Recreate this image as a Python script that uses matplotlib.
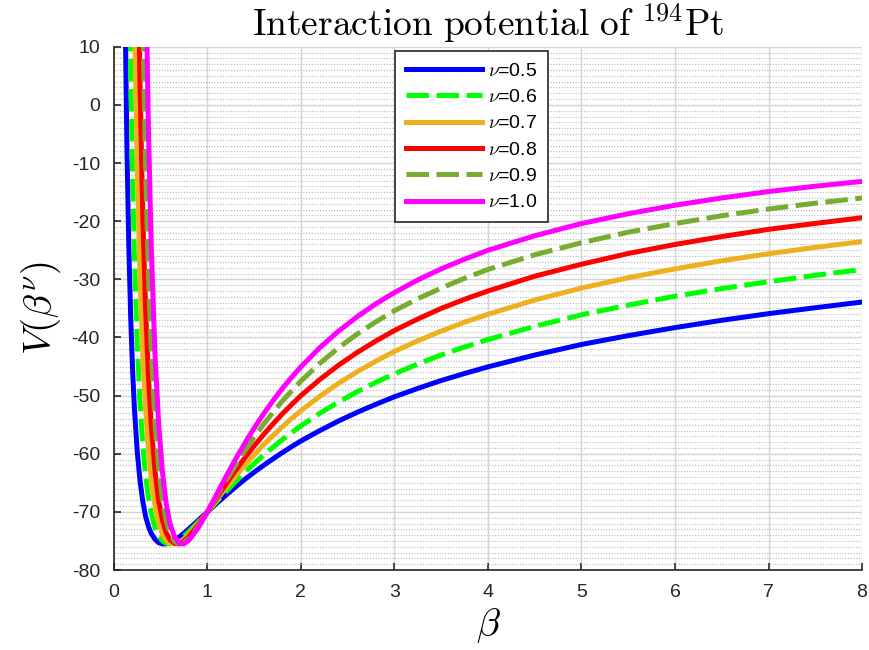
import matplotlib
matplotlib.use("Agg")
import matplotlib.pyplot as plt
from matplotlib.ticker import MultipleLocator

plt.rcParams["font.family"] = ["Liberation Sans", "DejaVu Sans"]
plt.rcParams["mathtext.fontset"] = "cm"
plt.rcParams["axes.unicode_minus"] = False

# beta sample points shared by all curves
beta = [0.10, 0.12, 0.14, 0.16, 0.18, 0.20, 0.22, 0.25, 0.28, 0.31, 0.34, 0.37,
        0.40, 0.44, 0.48, 0.52, 0.56, 0.60, 0.65, 0.70, 0.75, 0.80, 0.90,
        1.0, 1.1, 1.2, 1.3, 1.4, 1.5, 1.6, 1.7, 1.8, 1.9, 2.0, 2.2, 2.4, 2.6, 2.8,
        3.0, 3.25, 3.5, 3.75, 4.0, 4.5, 5.0, 5.5, 6.0, 6.5, 7.0, 7.5, 8.0]

v_05 = [53.5, 16.9, -7.4, -24.25, -36.4, -45.4, -52.2, -59.6, -64.7, -68.2, -70.8, -72.5,
        -73.7, -74.7, -75.3, -75.5, -75.5, -75.3, -74.8, -74.3, -73.65, -72.95, -71.5,
        -70.0, -68.52, -67.1, -65.73, -64.4, -63.18, -62.0, -60.9, -59.81, -58.79, -57.8,
        -56.03, -54.38, -52.88, -51.5, -50.2, -48.76, -47.4, -46.19, -45.05, -43.02, -41.2,
        -39.68, -38.3, -37.04, -35.9, -34.88, -33.9]
v_06 = [198.5, 118.8, 66.9, 31.6, 6.4, -12.1, -26.0, -41.0, -51.3, -58.6, -63.8, -67.5,
        -70.2, -72.7, -74.2, -75.0, -75.4, -75.5, -75.3, -74.8, -74.2, -73.4, -71.8,
        -70.0, -68.22, -66.5, -64.81, -63.2, -61.69, -60.25, -58.9, -57.59, -56.37, -55.2,
        -53.06, -51.11, -49.35, -47.73, -46.25, -44.56, -43.0, -41.63, -40.35, -38.08, -36.1,
        -34.43, -32.9, -31.59, -30.4, -29.31, -28.3]
v_07 = [457.5, 296.2, 193.9, 125.5, 77.5, 42.7, 16.9, -10.8, -29.7, -43.0, -52.4, -59.3,
        -64.3, -68.9, -71.9, -73.8, -74.9, -75.4, -75.5, -75.2, -74.65, -73.9, -72.0,
        -70.0, -67.91, -65.85, -63.87, -62.0, -60.18, -58.48, -56.9, -55.38, -53.95, -52.6,
        -50.13, -47.91, -45.9, -44.09, -42.4, -40.57, -38.9, -37.37, -36.0, -33.56, -31.5,
        -29.72, -28.2, -26.8, -25.6, -24.5, -23.5]
v_08 = [905.0, 594.6, 403.0, 277.1, 190.6, 128.4, 83.2, 35.3, 3.1, -19.4, -35.3, -46.8,
        -55.2, -63.0, -68.15, -71.4, -73.6, -74.8, -75.4, -75.5, -75.0, -74.3, -72.3,
        -70.0, -67.6, -65.2, -62.91, -60.7, -58.66, -56.71, -54.9, -53.16, -51.55, -50.0,
        -47.26, -44.8, -42.59, -40.62, -38.8, -36.82, -35.0, -33.43, -32.0, -29.46, -27.4,
        -25.55, -24.0, -22.64, -21.4, -20.38, -19.4]
v_09 = [1661.0, 1084.0, 737.0, 515.0, 364.7, 259.4, 183.1, 103.8, 51.0, 14.8, -10.8, -29.0,
        -42.2, -54.5, -62.6, -68.1, -71.5, -73.7, -75.1, -75.5, -75.3, -74.6, -72.6,
        -70.0, -67.28, -64.6, -61.95, -59.5, -57.13, -54.94, -52.9, -50.97, -49.19, -47.5,
        -44.48, -41.81, -39.43, -37.32, -35.4, -33.33, -31.5, -29.82, -28.3, -25.78, -23.7,
        -21.89, -20.4, -19.06, -17.9, -16.9, -16.0]
v_10 = [2918.0, 1873.0, 1264.0, 881.0, 628.0, 454.0, 330.0, 202.4, 119.2, 62.8, 23.7, -4.1,
        -24.25, -42.9, -55.1, -63.2, -68.6, -72.0, -74.3, -75.4, -75.5, -74.9, -72.8,
        -70.0, -66.96, -63.9, -60.98, -58.2, -55.6, -53.17, -50.9, -48.81, -46.86, -45.05,
        -41.78, -38.94, -36.44, -34.23, -32.27, -30.1, -28.2, -26.53, -25.0, -22.5, -20.4,
        -18.71, -17.25, -16.0, -14.9, -13.98, -13.15]

labels = [r"$\nu$=0.5", r"$\nu$=0.6", r"$\nu$=0.7", r"$\nu$=0.8", r"$\nu$=0.9", r"$\nu$=1.0"]
series = [v_05, v_06, v_07, v_08, v_09, v_10]
colors = ["#0000ff", "#00ff00", "#edb120", "#ff0000", "#77ac30", "#ff00ff"]
dashed = [False, True, False, False, True, False]

fig = plt.figure(figsize=(8.69, 6.5), dpi=100)
ax = fig.add_axes([0.131, 0.123, 0.861, 0.805])

for vals, lab, col, d in zip(series, labels, colors, dashed):
    if d:
        ax.plot(beta, vals, color=col, lw=3.6, label=lab, dashes=(4.5, 1.5))
    else:
        ax.plot(beta, vals, color=col, lw=3.6, label=lab)

ax.set_xlim(0, 8)
ax.set_ylim(-80, 10)
ax.xaxis.set_major_locator(MultipleLocator(1))
ax.yaxis.set_major_locator(MultipleLocator(10))
ax.yaxis.set_minor_locator(MultipleLocator(1))
ax.grid(True, which="major", color="#d4d4d4", lw=1.0)
ax.grid(True, which="minor", axis="y", color="#b8b8b8", lw=0.8, ls=(0, (1, 1.5)))
ax.set_axisbelow(True)

for s in ["top", "right"]:
    ax.spines[s].set_visible(False)
for s in ["left", "bottom"]:
    ax.spines[s].set_color("#262626")
    ax.spines[s].set_linewidth(1.2)
ax.tick_params(which="major", direction="in", length=5, width=1.2, color="#262626",
               labelsize=14, labelcolor="#262626", pad=10)
ax.tick_params(which="minor", length=0)

ax.set_title(r"$\mathrm{Interaction\ potential\ of\ }^{194}\mathrm{Pt}$", fontsize=27, pad=8)
ax.set_xlabel(r"$\beta$", fontsize=28, labelpad=4)
ax.set_ylabel(r"$V(\beta^{\nu})$", fontsize=28, labelpad=6)

leg = ax.legend(loc="upper left", bbox_to_anchor=(0.363, 1.01), fontsize=14,
                handlelength=3.9, labelspacing=0.45, handletextpad=0.3,
                borderpad=0.55, fancybox=False, framealpha=1, edgecolor="#262626")
leg.get_frame().set_linewidth(1.2)

fig.savefig("out.png", dpi=100)
